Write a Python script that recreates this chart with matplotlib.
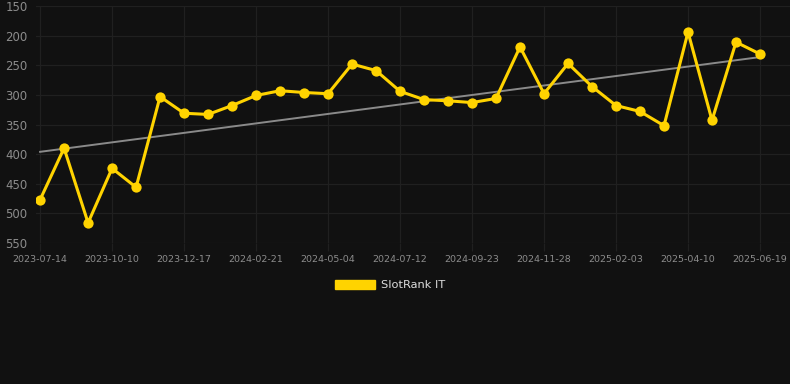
import matplotlib
matplotlib.use("Agg")
import matplotlib.pyplot as plt
from matplotlib.patches import Patch
import numpy as np

tick_labels = ["2023-07-14", "2023-10-10", "2023-12-17", "2024-02-21", "2024-05-04",
               "2024-07-12", "2024-09-23", "2024-11-28", "2025-02-03", "2025-04-10",
               "2025-06-19"]
rank_values = [477, 390, 516, 424, 456, 303, 331, 333, 318, 301, 293, 296, 298,
               248, 259, 294, 308, 310, 313, 306, 219, 298, 247, 286, 318, 328,
               352, 194, 343, 211, 231]
series_name = "SlotRank IT"

bg = "#111111"
yellow = "#FFD300"
grid_c = "#202020"

fig = plt.figure(figsize=(7.9, 3.84), dpi=100, facecolor=bg)
ax = fig.add_axes([36 / 790, 1 - 243 / 384, 1 - 36 / 790, (243 - 6) / 384])
ax.set_facecolor(bg)

x = np.arange(len(rank_values))
y = np.array(rank_values, dtype=float)

coef = np.polyfit(x, y, 1)
ax.plot(x, np.polyval(coef, x), color="#8a8a8a", lw=1.4, zorder=2)
ax.plot(x, y, color=yellow, lw=2.2, marker="o", markersize=7.4,
        markeredgewidth=0, zorder=3)

ax.set_ylim(550, 150)
ax.set_yticks([150, 200, 250, 300, 350, 400, 450, 500, 550])
ax.set_xlim(-0.17, 31.25)
ax.set_xticks(x[::3])
ax.set_xticklabels(tick_labels)

ax.grid(True, color=grid_c, lw=0.9)
ax.set_axisbelow(True)
for s in ax.spines.values():
    s.set_visible(False)
ax.tick_params(axis="y", length=0, pad=6, labelsize=8.5, labelcolor="#8c8c8c")
ax.tick_params(axis="x", length=6, width=0.9, color=grid_c, pad=3, labelsize=6.8,
               labelcolor="#8c8c8c")
for lab in ax.get_yticklabels():
    lab.set_horizontalalignment("right")

handle = Patch(facecolor=yellow, edgecolor=yellow)
fig.legend(handles=[handle], labels=[series_name], loc="center",
           bbox_to_anchor=(0.494, 1 - 285 / 384), frameon=False,
           fontsize=8.2, labelcolor="#dddddd", handlelength=3.5,
           handleheight=0.85, handletextpad=0.55)

fig.savefig("out.png", dpi=100, facecolor=bg)
